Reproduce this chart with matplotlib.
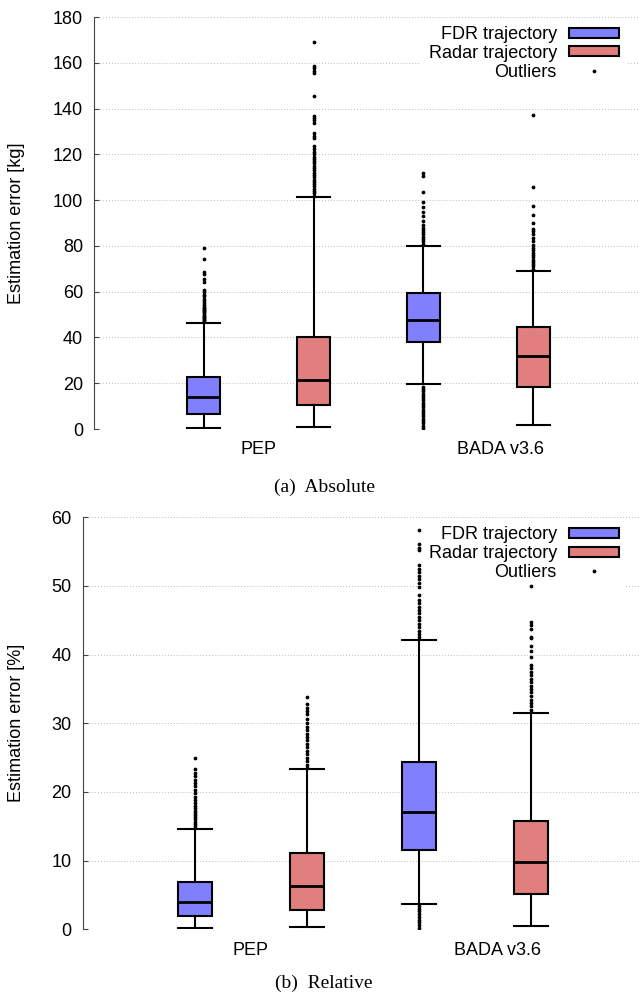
import matplotlib
matplotlib.use('Agg')
import matplotlib.pyplot as plt
from matplotlib.patches import Patch
from matplotlib.lines import Line2D
import numpy as np

# box positions and group labels
positions = [1, 2, 3, 4]
group_ticks = [1.5, 3.7]
group_labels = ['PEP', 'BADA v3.6']
series_labels = ['FDR trajectory', 'Radar trajectory', 'Outliers']
fdr_color = '#8080ff'
radar_color = '#e17e7e'

# (a) absolute error [kg]: whislo, q1, median, q3, whishi per box
abs_whislo = [0.6, 0.9, 19.5, 1.6]
abs_q1 = [6.5, 10.3, 37.9, 18.5]
abs_med = [14.0, 21.3, 47.5, 31.9]
abs_q3 = [22.7, 40.0, 59.5, 44.6]
abs_whishi = [46.4, 101.2, 80.0, 69.2]
abs_fliers = [
    [47, 47.5, 48, 48.5, 49, 49.5, 50, 50.5, 51, 51.5, 52, 52.5, 53, 53.5, 54, 55, 56, 57,
     58, 58.5, 59.7, 60.7, 64.4, 65.4, 67.7, 68.7, 74.3, 78.9],
    [102, 103, 104, 105, 106, 107, 108, 109, 110, 111, 112, 113, 114, 115, 116, 117, 118,
     119, 120, 121.1, 122.5, 123.8, 127, 128.2, 129.4, 133.8, 135, 136, 136.9, 145.5,
     155.4, 156.4, 157.6, 158.6, 168.9],
    [81, 82, 83, 84, 85, 86, 87, 88, 89, 91, 93, 95, 97.1, 99.3, 103.7, 110.5, 111.7,
     18.5, 17.5, 16.5, 15.5, 14.5, 13.5, 12.5, 11.5, 10.5, 9.5, 8.5, 7.5, 6.5, 5.5, 4.5,
     3.5, 2.5, 1.5, 0.5],
    [70, 71, 72, 73, 74, 75, 76, 77, 78, 79, 80.5, 82, 83.5, 85, 86.3, 87.2, 90.1, 93.5,
     97.6, 105.6, 137],
]

# (b) relative error [%]
rel_whislo = [0.2, 0.3, 3.7, 0.5]
rel_q1 = [2.0, 2.86, 11.6, 5.1]
rel_med = [4.0, 6.3, 17.1, 9.85]
rel_q3 = [6.9, 11.15, 24.4, 15.8]
rel_whishi = [14.65, 23.3, 42.2, 31.5]
rel_fliers = [
    [15, 15.3, 15.6, 16, 16.3, 16.6, 17, 17.3, 17.6, 18, 18.4, 18.8, 19.3, 19.8, 20.3,
     20.8, 21.3, 21.8, 22.3, 22.8, 23.4, 25.0],
    [23.5, 24, 24.5, 25, 25.5, 26, 26.5, 27, 27.5, 28, 28.5, 29, 29.5, 30, 30.6, 31.3,
     31.8, 32.3, 32.8, 33.8],
    [42.5, 43, 43.5, 44, 44.5, 45, 45.5, 46, 46.5, 47, 47.5, 48, 48.7, 49.9, 50.5, 51,
     51.5, 52, 52.5, 53, 55.2, 55.6, 56.1, 58.1,
     3.4, 3.0, 2.6, 2.2, 1.8, 1.4, 1.0, 0.6, 0.2],
    [32, 32.5, 33, 33.4, 34, 34.5, 35, 35.5, 36, 36.5, 37, 37.5, 38, 38.5, 39.7, 40.5,
     41.2, 42.4, 42.6, 43.8, 44.3, 44.8, 50.0],
]

plt.rcParams['font.family'] = 'Liberation Sans'

W, H = 640, 994


def make_stats(whislo, q1, med, q3, whishi, fliers):
    stats = []
    for i in range(len(med)):
        stats.append(dict(whislo=whislo[i], q1=q1[i], med=med[i], q3=q3[i],
                          whishi=whishi[i], fliers=np.array(fliers[i])))
    return stats


def draw_panel(ax, stats, ymax, ystep, ylabel, legend_anchor):
    colors = [fdr_color, radar_color, fdr_color, radar_color]
    bp = ax.bxp(stats, positions=positions, widths=0.3, capwidths=0.3,
                patch_artist=True, showfliers=True,
                boxprops=dict(edgecolor='black', linewidth=1.5),
                medianprops=dict(color='black', linewidth=2),
                whiskerprops=dict(color='black', linewidth=1.5),
                capprops=dict(color='black', linewidth=1.5),
                flierprops=dict(marker='o', markersize=1.7, markerfacecolor='black',
                                markeredgecolor='black', linestyle='none'))
    for patch, c in zip(bp['boxes'], colors):
        patch.set_facecolor(c)
    for art in bp['boxes'] + bp['medians'] + bp['whiskers'] + bp['caps'] + bp['fliers']:
        art.set_zorder(3)

    ax.set_xlim(0, 5)
    ax.set_ylim(0, ymax)
    ax.set_yticks(np.arange(0, ymax + 1, ystep))
    ax.set_xticks(group_ticks)
    ax.set_xticklabels(group_labels)
    ax.tick_params(axis='x', length=0, pad=9, labelsize=13)
    ax.tick_params(axis='y', direction='in', length=3.5, pad=8, labelsize=13, color='#444444')
    for s in ['top', 'right', 'bottom']:
        ax.spines[s].set_visible(False)
    ax.spines['left'].set_color('#444444')
    ax.set_axisbelow(True)
    ax.yaxis.grid(True, linestyle=(0, (1, 2)), color='#bbbbbb', linewidth=0.7)
    ax.set_ylabel(ylabel, fontsize=13)

    handles = [Patch(facecolor=fdr_color, edgecolor='black', linewidth=1.5),
               Patch(facecolor=radar_color, edgecolor='black', linewidth=1.5),
               Line2D([], [], marker='o', markersize=1.7, color='black', linestyle='none')]
    leg = ax.legend(handles, series_labels, loc='upper right',
                    bbox_to_anchor=(legend_anchor[0] / W, 1 - legend_anchor[1] / H),
                    bbox_transform=fig.transFigure, borderaxespad=0,
                    markerfirst=False, frameon=True, fontsize=13, handlelength=2.78,
                    handleheight=0.46, labelspacing=0.1, borderpad=0.4, handletextpad=0.65,
                    fancybox=False)
    leg.get_frame().set_facecolor('white')
    leg.get_frame().set_edgecolor('none')
    leg.get_frame().set_alpha(1)
    leg.set_zorder(1)


fig = plt.figure(figsize=(W / 100, H / 100), dpi=100)
ax1 = fig.add_axes([94 / W, 1 - 429 / H, 549 / W, 412 / H])
ax2 = fig.add_axes([82.7 / W, 1 - 929.3 / H, 560.3 / W, 412 / H])

draw_panel(ax1, make_stats(abs_whislo, abs_q1, abs_med, abs_q3, abs_whishi, abs_fliers),
           180, 20, 'Estimation error [kg]', (626, 18.8))
draw_panel(ax2, make_stats(rel_whislo, rel_q1, rel_med, rel_q3, rel_whishi, rel_fliers),
           60, 10, 'Estimation error [%]', (626, 519))
ax1.yaxis.set_label_coords((25 - 94) / 549, 0.5)
ax2.yaxis.set_label_coords((25 - 82.7) / 560.3, 0.5)

fig.text(324 / W, 1 - 487 / H, '(a)  Absolute', family='Liberation Serif',
         fontsize=14, ha='center', va='center')
fig.text(324 / W, 1 - 983 / H, '(b)  Relative', family='Liberation Serif',
         fontsize=14, ha='center', va='center')

fig.savefig('out.png', dpi=100)
